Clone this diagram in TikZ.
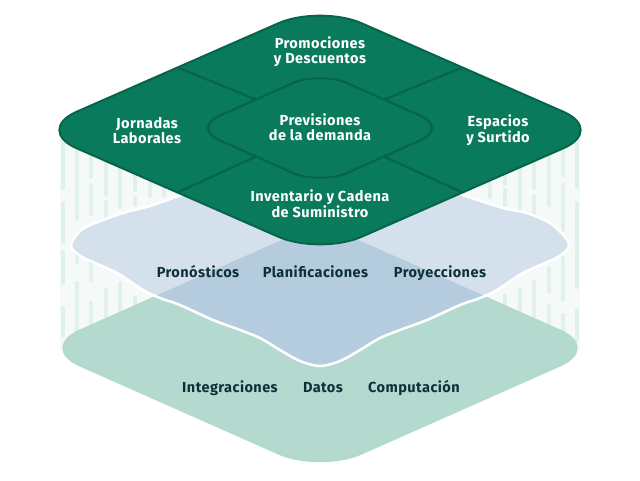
\documentclass[tikz,border=0pt]{standalone}
\usepackage{fontspec}
\setmainfont{Fira Sans}[LetterSpace=3]
\begin{document}
\begin{tikzpicture}[x=0.75pt,y=-0.75pt]
\definecolor{tgreen}{RGB}{9,122,92}
\definecolor{tgreendk}{RGB}{5,100,74}
\definecolor{lblue}{RGB}{212,225,236}
\definecolor{dblue}{RGB}{181,204,223}
\definecolor{mint}{RGB}{180,217,207}
\definecolor{navy}{RGB}{14,48,58}
\definecolor{rainc}{RGB}{224,241,235}
\definecolor{faint}{RGB}{245,250,248}
\tikzset{
  lbl/.style={font=\fontsize{10.9}{11.25}\selectfont\bfseries, align=center, inner sep=0pt},
  toptext/.style={lbl, text=white},
  lowtext/.style={lbl, text=navy, anchor=base},
  rain/.style={draw=rainc, line width=3pt, line cap=round},
  divider/.style={draw=tgreendk, line width=1.6pt},
  bluelayer/.style={insert path={plot[smooth cycle, tension=0.5] coordinates {
    (71,245) (74,251) (84,258) (117,273) (143,290) (160,298) (180,305) (213,320)
    (240,330) (260,338) (280,350) (300,361) (320,366)
    (340,361) (360,350) (380,338) (400,330) (427,320) (460,305) (480,298)
    (497,290) (523,273) (556,258) (566,251) (569,245)
    (565,237) (550,223) (527,213) (507,209) (487,203) (460,194) (420,178)
    (380,160) (350,145) (320,135)
    (290,145) (260,160) (220,178) (190,192) (170,199) (150,206) (123,213)
    (95,223) (81,230) (75,237)}}}
}
\useasboundingbox (0,0) rectangle (640,480);
% faint cylinder body
\fill[faint] (60,130) rectangle (580,350);
% rain lines
\foreach \x/\a/\b in {
  63/135/188, 63/203/242, 63/252/283, 63/308/335,
  77/148/218, 77/240/262, 77/283/335,
  91/155/177, 91/185/214, 91/262/280, 91/303/328,
  106/150/195, 106/202/217, 106/290/323,
  120/160/207, 120/283/313,
  135/165/190, 135/198/205, 135/297/306,
  150/172/196, 164/185/195,
  577/135/187, 577/203/287, 577/310/340,
  563/142/175, 563/185/230, 563/258/300, 563/315/338,
  549/150/205, 549/268/292, 549/305/330,
  534/158/188, 534/196/214, 534/282/322,
  520/165/210, 520/290/318,
  505/170/184, 505/190/205, 505/295/306,
  490/175/197}
  \draw[rain] (\x,\a) -- (\x,\b);
% bottom layer
\fill[mint, rounded corners=34pt] (179,285.5) -- (320,223) -- (602,348) -- (320,473) -- (38,348) -- cycle;
% middle layer
\path[fill=lblue, bluelayer];
\begin{scope}
  \clip[bluelayer];
  \fill[dblue, rounded corners=34pt] (179,285.5) -- (320,223) -- (602,348) -- (320,473) -- (38,348) -- cycle;
\end{scope}
\path[draw=white, line width=1.9pt, bluelayer];
% top layer
\coordinate (oul) at (177.5,67.5);
\coordinate (our) at (462.5,67.5);
\coordinate (oll) at (177.5,192.5);
\coordinate (olr) at (462.5,192.5);
\coordinate (iul) at (256,99.5);
\coordinate (iur) at (384,99.5);
\coordinate (ill) at (256,156.5);
\coordinate (ilr) at (384,156.5);
\path[fill=tgreen, draw=tgreendk, line width=1.5pt, rounded corners=34pt]
  (oul) -- (320,5) -- (605,130) -- (320,255) -- (35,130) -- cycle;
\draw[divider] (oul) -- (iul);
\draw[divider] (our) -- (iur);
\draw[divider] (oll) -- (ill);
\draw[divider] (olr) -- (ilr);
\draw[divider, rounded corners=22.5pt]
  (iul) -- (320,71) -- (448,128) -- (320,185) -- (192,128) -- cycle;
% texts
\node[toptext] (promo) at (320,51.5) {Promociones\\y Descuentos};
\node[toptext] (jorn) at (147,131) {Jornadas\\Laborales};
\node[toptext] (prev) at (320,127) {Previsiones\\de la demanda};
\node[toptext] (esp) at (498,130) {Espacios\\y Surtido};
\node[toptext] (inv) at (320,204) {Inventario y Cadena\\de Suministro};
\node[lowtext] (pron) at (198,277.7) {Pronósticos};
\node[lowtext] (plan) at (315.5,277.7) {Planificaciones};
\node[lowtext] (proy) at (440,277.7) {Proyecciones};
\node[lowtext] (integ) at (230,392.3) {Integraciones};
\node[lowtext] (datos) at (323,392.3) {Datos};
\node[lowtext] (comp) at (414,392.3) {Computación};
\end{tikzpicture}
\end{document}
